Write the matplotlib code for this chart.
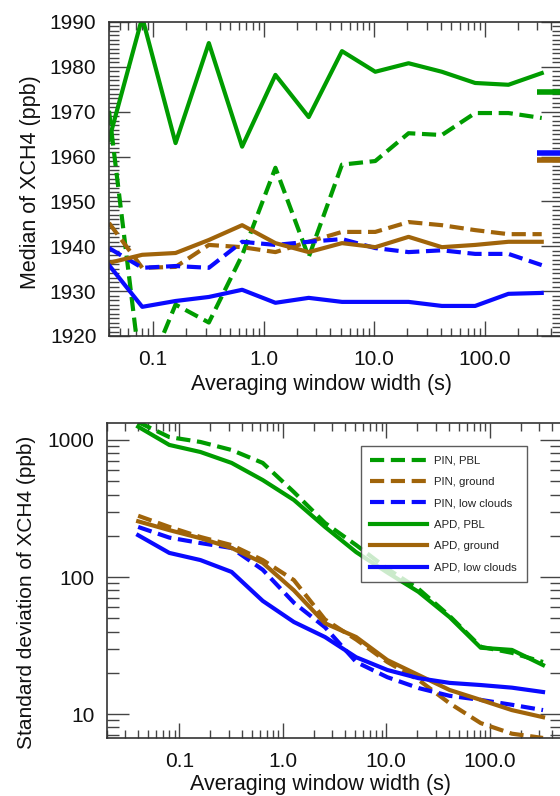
import numpy as np
from matplotlib import pyplot as plt
from matplotlib.ticker import MultipleLocator, LogLocator, FixedLocator, NullFormatter

plt.rcParams['font.family'] = ['Liberation Sans', 'DejaVu Sans']

# -------------- data
window = [0.04, 0.08, 0.16, 0.32, 0.64, 1.28, 2.56, 5.12, 10.24, 20.48, 40.96, 81.92, 163.84, 327.68]

# median of XCH4 (ppb)
med_pin_pbl    = [1970.2, 1909.0, 1927.0, 1923.0, 1938.0, 1957.5, 1937.6, 1958.2, 1959.0, 1965.2, 1964.8, 1969.7, 1969.7, 1968.6]
med_pin_ground = [1945.2, 1935.2, 1935.4, 1940.3, 1939.8, 1938.7, 1941.0, 1943.2, 1943.2, 1945.4, 1944.7, 1943.6, 1942.7, 1942.7]
med_pin_low    = [1939.6, 1935.2, 1935.6, 1935.2, 1941.0, 1940.3, 1941.0, 1941.6, 1939.6, 1938.7, 1939.1, 1938.3, 1938.3, 1935.8]
med_apd_pbl    = [1963.7, 1991.0, 1963.0, 1985.3, 1962.2, 1978.2, 1968.8, 1983.5, 1978.9, 1980.8, 1978.9, 1976.4, 1976.0, 1978.6]
med_apd_ground = [1936.3, 1938.1, 1938.5, 1941.4, 1944.7, 1940.7, 1938.7, 1940.7, 1939.8, 1942.1, 1939.8, 1940.3, 1941.0, 1941.0]
med_apd_low    = [1935.8, 1926.5, 1927.8, 1928.7, 1930.3, 1927.4, 1928.5, 1927.6, 1927.6, 1927.6, 1926.7, 1926.7, 1929.4, 1929.6]

# overall medians marked at the right edge (green, blue, brown)
overall_median = [1974.4, 1960.8, 1959.2]

# standard deviation of XCH4 (ppb)
std_pin_pbl    = [1350, 1050, 967, 845, 680, 417, 248, 171, 115, 82, 52, 31, 28, 24]
std_pin_ground = [280, 232, 196, 171, 133, 95, 49, 35, 24, 17.8, 12.0, 8.6, 7.2, 6.7]
std_pin_low    = [232, 194, 177, 163, 113, 65, 43, 24, 18.6, 15.5, 13.6, 12.7, 11.7, 10.7]
std_apd_pbl    = [1250, 920, 817, 680, 510, 365, 232, 152, 108, 78, 51, 30.5, 29.4, 22.8]
std_apd_ground = [255, 220, 192, 163, 127, 80, 46, 36.5, 24.8, 19.3, 15.0, 12.7, 10.7, 9.5]
std_apd_low    = [202, 150, 133, 109, 67, 47, 36.5, 26, 21, 18.3, 16.9, 16.3, 15.6, 14.5]

labels = ["PIN, PBL", "PIN, ground", "PIN, low clouds", "APD, PBL", "APD, ground", "APD, low clouds"]
xticks = [0.1, 1.0, 10.0, 100.0]
xticklabels = ["0.1", "1.0", "10.0", "100.0"]

green, brown, blue = '#009c00', '#a0640a', '#0a0aff'
dash = (3.4, 1.6)
lw = 3


def style_axes(ax, ymajor, yminor):
  ax.set_xscale('log')
  ax.xaxis.set_major_locator(FixedLocator(xticks))
  ax.set_xticklabels(xticklabels)
  ax.xaxis.set_minor_locator(LogLocator(base=10, subs=np.arange(2, 10)))
  ax.xaxis.set_minor_formatter(NullFormatter())
  ax.tick_params(which='both', direction='in', top=True, right=True, width=1, color='#444444',
                 labelsize=15, labelcolor='#111111')
  ax.tick_params(axis='x', which='major', length=11, pad=10)
  ax.tick_params(axis='x', which='minor', length=5.5)
  ax.tick_params(axis='y', which='major', length=ymajor, pad=9)
  ax.tick_params(axis='y', which='minor', length=yminor)
  for s in ax.spines.values():
    s.set_linewidth(1.2)
    s.set_color('#333333')
  ax.set_xlabel("Averaging window width (s)", fontsize=15.5, color='#111111')


fig = plt.figure(figsize=(5.6, 7.96), dpi=100, facecolor='white')

# -------------- top panel: median
ax1 = fig.add_axes([0.1946, 0.5779, 0.8090, 0.3945])
ax1.plot(window, med_pin_pbl, color=green, lw=lw, dashes=dash)
ax1.plot(window, med_pin_ground, color=brown, lw=lw, dashes=dash)
ax1.plot(window, med_pin_low, color=blue, lw=lw, dashes=dash)
ax1.plot(window, med_apd_pbl, color=green, lw=lw)
ax1.plot(window, med_apd_ground, color=brown, lw=lw)
ax1.plot(window, med_apd_low, color=blue, lw=lw)
for v, c in zip(overall_median, [green, blue, brown]):
  ax1.axhline(y=v, xmin=0.945, xmax=1.0, color=c, lw=4, solid_capstyle='butt')
ax1.set_xlim(0.04, 500)
ax1.set_ylim(1920, 1990)
ax1.yaxis.set_major_locator(MultipleLocator(10))
ax1.yaxis.set_minor_locator(MultipleLocator(1))
style_axes(ax1, 15, 7.5)
ax1.set_ylabel("Median of XCH4 (ppb)", fontsize=15.5, color='#111111')
ax1.yaxis.set_label_coords(-0.15, 0.49)
ax1.xaxis.set_label_coords(0.469, -0.121)

# -------------- bottom panel: standard deviation
ax2 = fig.add_axes([0.1911, 0.0729, 0.8125, 0.3957])
ax2.plot(window, std_pin_pbl, color=green, lw=lw, dashes=dash, label=labels[0])
ax2.plot(window, std_pin_ground, color=brown, lw=lw, dashes=dash, label=labels[1])
ax2.plot(window, std_pin_low, color=blue, lw=lw, dashes=dash, label=labels[2])
ax2.plot(window, std_apd_pbl, color=green, lw=lw, label=labels[3])
ax2.plot(window, std_apd_ground, color=brown, lw=lw, label=labels[4])
ax2.plot(window, std_apd_low, color=blue, lw=lw, label=labels[5])
ax2.set_xlim(0.02, 500)
ax2.set_yscale('log')
ax2.set_ylim(6.7, 1330)
ax2.yaxis.set_major_locator(FixedLocator([10, 100, 1000]))
ax2.set_yticklabels(["10", "100", "1000"])
ax2.yaxis.set_minor_locator(LogLocator(base=10, subs=np.arange(2, 10)))
ax2.yaxis.set_minor_formatter(NullFormatter())
style_axes(ax2, 16, 8.5)
ax2.set_ylabel("Standard deviation of XCH4 (ppb)", fontsize=15, color='#111111')
ax2.yaxis.set_label_coords(-0.157, 0.463)
ax2.xaxis.set_label_coords(0.47, -0.114)

leg = ax2.legend(loc='upper left', bbox_to_anchor=(0.5575, 0.927), fontsize=8.2, frameon=True,
                 fancybox=False, edgecolor='#333333', handlelength=5.0, handletextpad=0.6,
                 labelspacing=1.0, borderpad=0.85, borderaxespad=0)
leg.get_frame().set_linewidth(1.0)
for t in leg.get_texts():
  t.set_color('#222222')

plt.savefig('out.png', dpi=100, facecolor='white')
